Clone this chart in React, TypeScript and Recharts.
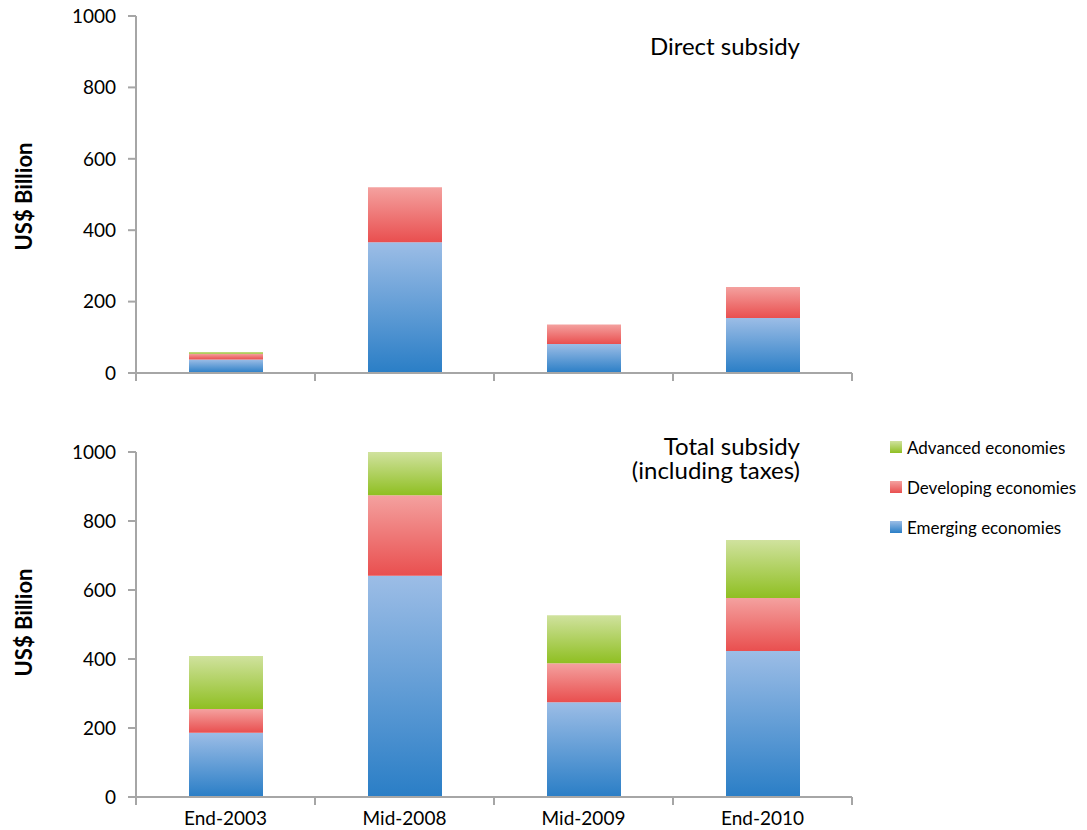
import React from 'react';
import { BarChart, Bar, XAxis, YAxis } from 'recharts';

// Fossil-fuel subsidy estimates, US$ billion
const CATEGORIES = ['End-2003', 'Mid-2008', 'Mid-2009', 'End-2010'];

const DIRECT_EMERGING = [38, 366, 81, 154];
const DIRECT_DEVELOPING = [16, 154, 55, 87];
const DIRECT_ADVANCED = [5, 0, 0, 0];

const TOTAL_EMERGING = [186, 641, 275, 423];
const TOTAL_DEVELOPING = [69, 234, 113, 154];
const TOTAL_ADVANCED = [154, 125, 139, 168];

const Y_TICKS = [0, 200, 400, 600, 800, 1000];

// stacking order bottom -> top
const SERIES = [
  { key: 'emerging', name: 'Emerging economies', top: '#9cbde6', bottom: '#2a7ec6' },
  { key: 'developing', name: 'Developing economies', top: '#f4a19f', bottom: '#e94f4f' },
  { key: 'advanced', name: 'Advanced economies', top: '#d0e29e', bottom: '#8fbf22' },
];

const buildRows = (emerging: number[], developing: number[], advanced: number[]) =>
  CATEGORIES.map((name, i) => ({
    name,
    emerging: emerging[i],
    developing: developing[i],
    advanced: advanced[i],
  }));

const directData = buildRows(DIRECT_EMERGING, DIRECT_DEVELOPING, DIRECT_ADVANCED);
const totalData = buildRows(TOTAL_EMERGING, TOTAL_DEVELOPING, TOTAL_ADVANCED);

const FONT = 'Lato, "Open Sans", sans-serif';
const AXIS = '#a6a6a6';
const CHART_W = 870;
const PLOT_LEFT = 136;
const PLOT_RIGHT = 852;

// category label plus Excel-style tick marks on the category boundaries
function CategoryTick(props: any) {
  const { x, y, payload, index, visibleTicksCount, showLabel } = props;
  const step = (PLOT_RIGHT - PLOT_LEFT) / visibleTicksCount;
  const edges = index === 0 ? [x - step / 2, x + step / 2] : [x + step / 2];
  return (
    <g>
      {edges.map((ex: number) => (
        <line key={ex} x1={ex} x2={ex} y1={y} y2={y + 8} stroke={AXIS} strokeWidth={2} />
      ))}
      {showLabel && (
        <text x={x} y={y + 28} textAnchor="middle" fontSize={19} fill="#000" fontFamily={FONT}>
          {payload.value}
        </text>
      )}
    </g>
  );
}

function Panel({ data, prefix, height, marginTop, xHeight, showLabels }: any) {
  return (
    <BarChart
      width={CHART_W}
      height={height}
      data={data}
      margin={{ top: marginTop, right: CHART_W - PLOT_RIGHT, bottom: 0, left: 0 }}
      barSize={74}
    >
      <defs>
        {SERIES.map((s) => (
          <linearGradient key={s.key} id={`${prefix}-${s.key}`} x1="0" y1="0" x2="0" y2="1">
            <stop offset="0%" stopColor={s.top} />
            <stop offset="100%" stopColor={s.bottom} />
          </linearGradient>
        ))}
      </defs>
      <XAxis
        dataKey="name"
        height={xHeight}
        axisLine={{ stroke: AXIS, strokeWidth: 2 }}
        tickLine={false}
        tickSize={0}
        tickMargin={0}
        interval={0}
        tick={<CategoryTick showLabel={showLabels} />}
      />
      <YAxis
        width={PLOT_LEFT}
        domain={[0, 1000]}
        ticks={Y_TICKS}
        interval={0}
        axisLine={{ stroke: AXIS, strokeWidth: 2 }}
        tickLine={{ stroke: AXIS, strokeWidth: 2 }}
        tickSize={8}
        tickMargin={12}
        tick={{ fill: '#000', fontSize: 19, fontFamily: FONT }}
      />
      {SERIES.map((s) => (
        <Bar
          key={s.key}
          dataKey={s.key}
          name={s.name}
          stackId="subsidy"
          fill={`url(#${prefix}-${s.key})`}
          isAnimationActive={false}
        />
      ))}
    </BarChart>
  );
}

const axisTitle: React.CSSProperties = {
  position: 'absolute',
  left: 24,
  width: 0,
  height: 0,
  display: 'flex',
  alignItems: 'center',
  justifyContent: 'center',
};

function YTitle({ centerY }: { centerY: number }) {
  return (
    <div style={{ ...axisTitle, top: centerY }}>
      <div
        style={{
          transform: 'rotate(-90deg)',
          whiteSpace: 'nowrap',
          fontWeight: 700,
          fontSize: 22,
        }}
      >
        US$ Billion
      </div>
    </div>
  );
}

export default function App() {
  const legendItems = [...SERIES].reverse();
  return (
    <div
      style={{
        position: 'absolute',
        left: 0,
        top: 0,
        width: 1087,
        height: 830,
        background: '#fff',
        fontFamily: FONT,
        color: '#000',
      }}
    >
      <div style={{ position: 'absolute', left: 0, top: 0 }}>
        <Panel data={directData} prefix="direct" height={400} marginTop={16} xHeight={27} showLabels={false} />
      </div>
      <div style={{ position: 'absolute', left: 0, top: 420 }}>
        <Panel data={totalData} prefix="total" height={410} marginTop={32} xHeight={33} showLabels />
      </div>

      <YTitle centerY={196} />
      <YTitle centerY={622} />

      <div style={{ position: 'absolute', right: 1087 - 800, top: 31, fontSize: 24, lineHeight: '30px' }}>
        Direct subsidy
      </div>
      <div
        style={{
          position: 'absolute',
          right: 1087 - 800,
          top: 434,
          fontSize: 24,
          lineHeight: '24px',
          textAlign: 'right',
        }}
      >
        Total subsidy
        <br />
        (including taxes)
      </div>

      <div style={{ position: 'absolute', left: 890, top: 427 }}>
        {legendItems.map((s) => (
          <div key={s.key} style={{ display: 'flex', alignItems: 'center', height: 40 }}>
            <div
              style={{
                width: 12,
                height: 12,
                background: `linear-gradient(${s.top}, ${s.bottom})`,
                marginRight: 5,
              }}
            />
            <span style={{ fontSize: 17 }}>{s.name}</span>
          </div>
        ))}
      </div>
    </div>
  );
}
